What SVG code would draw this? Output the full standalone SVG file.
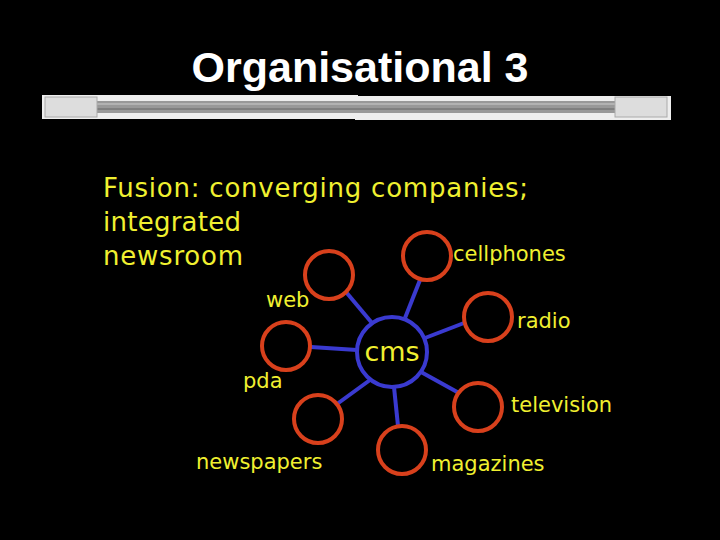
<svg xmlns="http://www.w3.org/2000/svg" width="720" height="540" viewBox="0 0 720 540">
<style>
.n{fill:none;stroke:#d8401c;stroke-width:4}
.c{fill:none;stroke:#3a3ad0;stroke-width:4}
.e line{stroke:#3a3ad0;stroke-width:4}
.t{font-family:"DejaVu Sans",sans-serif;font-size:21px;fill:#f0f030}
.h{font-size:26px}
</style>
<rect width="720" height="540" fill="#000"/>
<text x="360" y="82" text-anchor="middle" font-family="Liberation Sans,sans-serif" font-weight="bold" font-size="43" fill="#fff">Organisational 3</text>
<g id="cable">
<rect x="42" y="95" width="316" height="24" fill="#eee"/>
<rect x="355" y="96" width="316" height="24" fill="#eee"/>
<rect x="95" y="101" width="520" height="12" fill="#999"/>
<line x1="95" y1="104" x2="615" y2="104" stroke="#ccc" stroke-width="1"/>
<line x1="95" y1="109" x2="615" y2="109" stroke="#666" stroke-width="1"/>
<rect x="45" y="97" width="52" height="20" fill="#ddd" stroke="#aaa"/>
<rect x="615" y="97" width="52" height="20" fill="#ddd" stroke="#aaa"/>
</g>
<text class="t h" x="103" y="197" textLength="425">Fusion: converging companies;</text>
<text class="t h" x="103" y="231" textLength="138">integrated</text>
<text class="t h" x="103" y="265" textLength="140">newsroom</text>
<g class="e" id="connectors">
<line x1="372" y1="323" x2="346" y2="292"/>
<line x1="405" y1="318" x2="420" y2="280"/>
<line x1="425" y1="338" x2="464" y2="323"/>
<line x1="357" y1="350" x2="311" y2="347"/>
<line x1="370" y1="380" x2="337" y2="404"/>
<line x1="394" y1="387" x2="398" y2="426"/>
<line x1="421" y1="372" x2="459" y2="393"/>
</g>
<g id="cms"><circle class="c" cx="392" cy="352" r="35"/><text class="t" x="392" y="361" text-anchor="middle" style="font-size:27px">cms</text></g>
<g id="web"><circle class="n" cx="329" cy="275" r="24"/><text class="t" x="266" y="307">web</text></g>
<g id="cellphones"><circle class="n" cx="427" cy="256" r="24"/><text class="t" x="453" y="261">cellphones</text></g>
<g id="radio"><circle class="n" cx="488" cy="317" r="24"/><text class="t" x="517" y="328">radio</text></g>
<g id="pda"><circle class="n" cx="286" cy="346" r="24"/><text class="t" x="243" y="388">pda</text></g>
<g id="newspapers"><circle class="n" cx="318" cy="419" r="24"/><text class="t" x="196" y="469">newspapers</text></g>
<g id="magazines"><circle class="n" cx="402" cy="450" r="24"/><text class="t" x="431" y="471">magazines</text></g>
<g id="television"><circle class="n" cx="478" cy="407" r="24"/><text class="t" x="511" y="412">television</text></g>
</svg>
